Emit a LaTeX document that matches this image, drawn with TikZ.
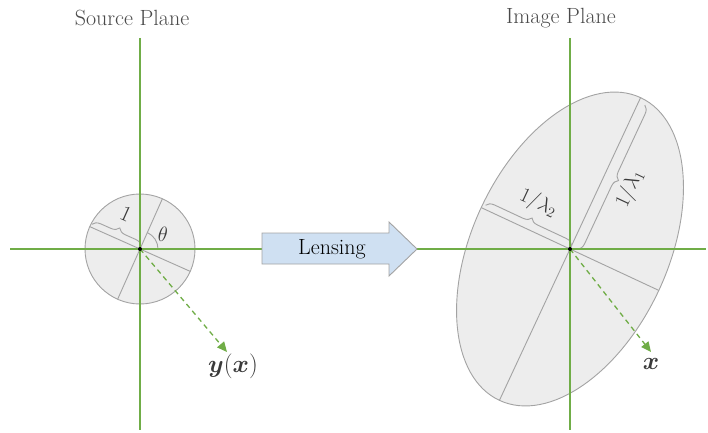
\documentclass[tikz,border=0pt]{standalone}
\usepackage{amsmath}
\usetikzlibrary{calc,decorations.pathreplacing,arrows.meta}
\definecolor{axisgreen}{HTML}{70AD47}
\definecolor{shapegray}{HTML}{A3A3A3}
\definecolor{shapefill}{HTML}{EDEDED}
\definecolor{labelgray}{HTML}{3A3A3A}
\definecolor{titlegray}{HTML}{4A4A4A}
\definecolor{lensblue}{HTML}{CFE0F2}
\begin{document}
\begin{tikzpicture}[x=1pt,y=1pt,
  axis/.style={axisgreen, line width=1.5pt},
  shapeline/.style={draw=shapegray, line width=0.9pt},
  bracestyle/.style={draw=shapegray, line width=0.9pt, decorate, decoration={brace, amplitude=8pt}},
  lbl/.style={text=labelgray, font=\fontsize{22}{26}\selectfont, inner sep=0pt},
  titlestyle/.style={text=titlegray, font=\fontsize{22}{26}\selectfont, inner sep=0pt},
  veclbl/.style={text=labelgray, font=\fontsize{25}{30}\selectfont, inner sep=0pt},
  vec/.style={axisgreen, line width=1.3pt, dash pattern=on 5pt off 4pt, -{Triangle[length=10pt,width=9pt]}},
]
\useasboundingbox (0,0) rectangle (708,432);
\coordinate (S) at (140,183);
\coordinate (I) at (570,183);
\coordinate (Hl) at (10,183);
\coordinate (Hr) at (706,183);
\coordinate (Stop) at (140,394);
\coordinate (Sbot) at (140,2);
\coordinate (Itop) at (570,394);
\coordinate (Ibot) at (570,2);
\coordinate (Send) at (227,80);
\coordinate (Iend) at (651,80);

% titles
\node[titlestyle] (srctitle) at (132,414) {Source Plane};
\node[titlestyle] (imgtitle) at (561,414) {Image Plane};

% source circle
\draw[shapeline, fill=shapefill] (S) circle[radius=55];
\draw[shapeline] ($(S)+(156:55)$) -- ($(S)+(336:55)$);
\draw[shapeline] ($(S)+(66:55)$) -- ($(S)+(246:55)$);
\draw[shapeline] ($(S)+(18,0)$) arc[start angle=0, end angle=66, radius=18];
\draw[bracestyle] ($(S)+(156:54)+(66:3)$) -- ($(S)+(66:3)$);
\node[lbl, rotate=-24] (lone) at ($(S)+(156:27)+(66:26)$) {1};
\node[lbl] (theta) at ($(S)+(32:27)$) {$\theta$};

% image ellipse
\draw[shapeline, fill=shapefill, rotate around={65:(I)}] (I) ellipse[x radius=167, y radius=98];
\draw[shapeline] ($(I)+(65:167)$) -- ($(I)+(245:167)$);
\draw[shapeline] ($(I)+(155:98)$) -- ($(I)+(335:98)$);
\draw[bracestyle] ($(I)+(155:95)+(65:4)$) -- ($(I)+(65:4)$);
\draw[bracestyle] ($(I)+(65:162)+(-25:7)$) -- ($(I)+(65:3)+(-25:7)$);
\node[lbl, rotate=-25] (ltwo) at ($(I)+(155:48)+(65:28)$) {$1/\lambda_2$};
\node[lbl, rotate=65] (lonei) at ($(I)+(65:80)+(-25:29)$) {$1/\lambda_1$};

% axes
\draw[axis] (Hl) -- (Hr);
\draw[axis] (Stop) -- (Sbot);
\draw[axis] (Itop) -- (Ibot);

% lensing arrow
\draw[draw=shapegray, line width=0.9pt, fill=lensblue] (262,168) -- (389,168) -- (389,156) -- (417,183) -- (389,210) -- (389,199) -- (262,199) -- cycle;
\node[font=\fontsize{22}{26}\selectfont, inner sep=0pt] (lens) at (332,183) {Lensing};

% vectors
\draw[vec] (S) -- (Send);
\draw[vec] (I) -- (Iend);
\node[veclbl] (ylbl) at (233,66) {$\boldsymbol{y}(\boldsymbol{x})$};
\node[veclbl] (xlbl) at (651,68) {$\boldsymbol{x}$};

\fill (S) circle[radius=2];
\fill (I) circle[radius=2];
\end{tikzpicture}
\end{document}
